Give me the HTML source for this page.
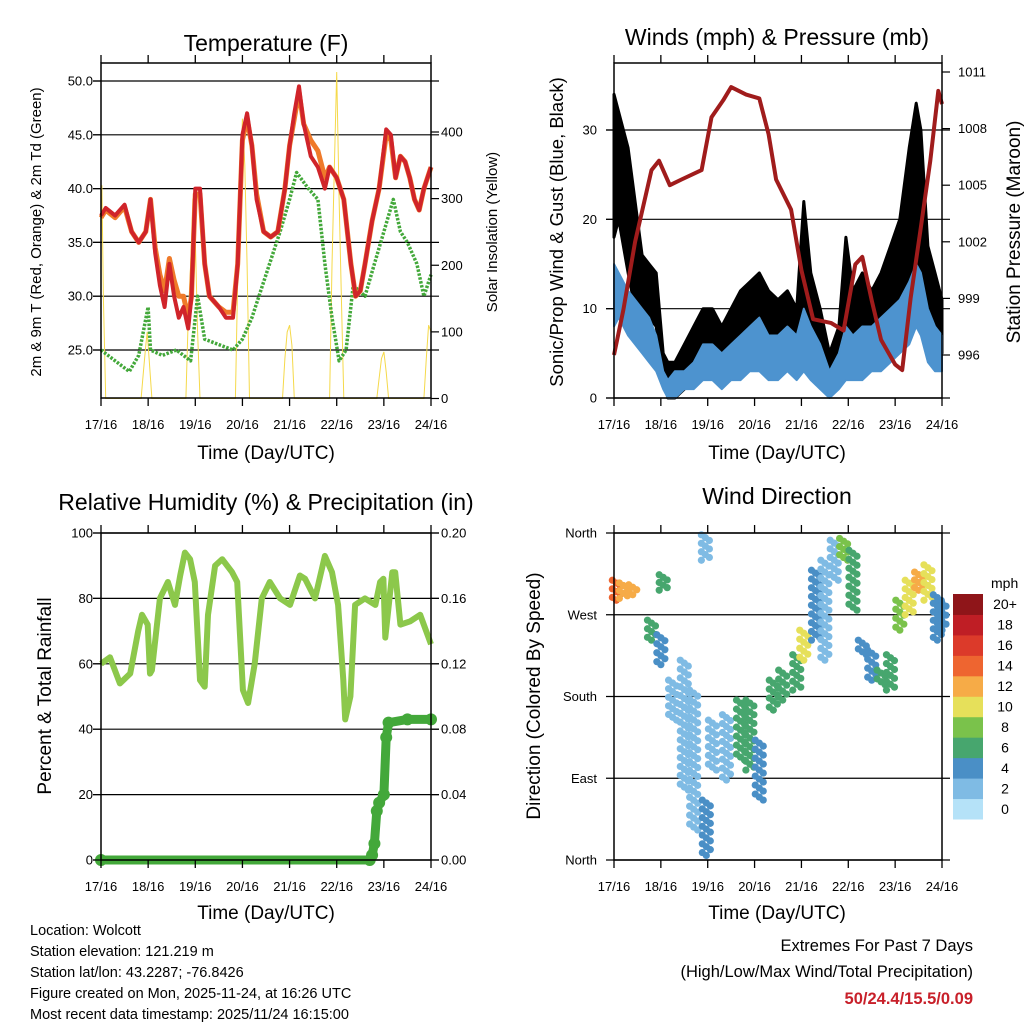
<!DOCTYPE html>
<html><head><meta charset="utf-8">
<style>
html,body{margin:0;padding:0;background:#fff;}
svg{display:block;font-family:"Liberation Sans",sans-serif;}
</style></head>
<body>
<svg id="chart" width="1024" height="1024" viewBox="0 0 1024 1024" xmlns="http://www.w3.org/2000/svg">
<rect width="1024" height="1024" fill="#fff"/>
<text x="266" y="51" font-size="23" text-anchor="middle">Temperature (F)</text>
<text x="777" y="45" font-size="23" text-anchor="middle">Winds (mph) &amp; Pressure (mb)</text>
<text x="266" y="510" font-size="23" text-anchor="middle">Relative Humidity (%) &amp; Precipitation (in)</text>
<text x="777" y="504" font-size="23" text-anchor="middle">Wind Direction</text>
<text x="266" y="459" font-size="19" text-anchor="middle">Time (Day/UTC)</text>
<text x="777" y="459" font-size="19" text-anchor="middle">Time (Day/UTC)</text>
<text x="266" y="919" font-size="19" text-anchor="middle">Time (Day/UTC)</text>
<text x="777" y="919" font-size="19" text-anchor="middle">Time (Day/UTC)</text>
<text transform="translate(41,232) rotate(-90)" font-size="15" text-anchor="middle">2m &amp; 9m T (Red, Orange) &amp; 2m Td (Green)</text>
<text transform="translate(497,232) rotate(-90)" font-size="15" text-anchor="middle">Solar Insolation (Yellow)</text>
<text transform="translate(563,232) rotate(-90)" font-size="18.5" text-anchor="middle">Sonic/Prop Wind &amp; Gust (Blue, Black)</text>
<text transform="translate(1020,232) rotate(-90)" font-size="19" text-anchor="middle">Station Pressure (Maroon)</text>
<text transform="translate(51,696) rotate(-90)" font-size="19" text-anchor="middle">Percent &amp; Total Rainfall</text>
<text transform="translate(540,696) rotate(-90)" font-size="19" text-anchor="middle">Direction (Colored By Speed)</text>
<g font-size="14.5">
<text x="30" y="935">Location: Wolcott</text>
<text x="30" y="956">Station elevation: 121.219 m</text>
<text x="30" y="977">Station lat/lon: 43.2287; -76.8426</text>
<text x="30" y="998">Figure created on Mon, 2025-11-24, at 16:26 UTC</text>
<text x="30" y="1019">Most recent data timestamp: 2025/11/24 16:15:00</text>
</g>
<text x="973" y="951" font-size="16.5" text-anchor="end">Extremes For Past 7 Days</text>
<text x="973" y="977" font-size="16.5" text-anchor="end">(High/Low/Max Wind/Total Precipitation)</text>
<text x="973" y="1004" font-size="16.5" font-weight="bold" fill="#c8202a" text-anchor="end">50/24.4/15.5/0.09</text>
<text x="991" y="588" font-size="14">mph</text>
</svg>
<script>
// ---------- DATA ----------
const dayLabels=["17/16","18/16","19/16","20/16","21/16","22/16","23/16","24/16"];
const tempTicks=[25,30,35,40,45,50];
const solarTicks=[0,100,200,300,400];
const windTicks=[0,10,20,30];
const pressTicks=[996,999,1002,1005,1008,1011];
const rhTicks=[0,20,40,60,80,100];
const rainTicks=[0,0.04,0.08,0.12,0.16,0.20];
const dirTicks=[0,90,180,270,360];
const dirLabels=["North","East","South","West","North"];
const speedBins=["0","2","4","6","8","10","12","14","16","18","20+"];

const tT=[0,0.1,0.3,0.5,0.65,0.8,0.95,1.05,1.15,1.25,1.35,1.45,1.55,1.65,1.75,1.85,1.92,2.0,2.1,2.2,2.3,2.5,2.65,2.8,2.9,3.0,3.1,3.2,3.3,3.45,3.6,3.75,3.9,4.0,4.1,4.2,4.3,4.45,4.6,4.75,4.85,5.0,5.15,5.3,5.4,5.5,5.6,5.75,5.9,6.05,6.15,6.25,6.35,6.45,6.55,6.65,6.75,6.85,7.0];
const tRed=[37.5,38.2,37.5,38.5,36,35,36,39,34,31,29,33,30,28,29,27,30,40,40,33,30,29,28,28,33,45,47,44,39,36,35.5,36,40,44,47,49.5,46,43,42,40,42,41,39,33,30,30.5,33,37,40,45.5,45,41,43,42.5,41,39,38,40,42];
const tOrange=[37.3,38,37.3,38.3,36,35,36,39,34.5,32,30.5,33.5,31.5,30,30,28,30,39.5,39.5,33,30,29,28.5,28.5,33,44.5,46.5,44,39.5,36,35.5,36,40,44,46.5,49,46,44.5,43.5,41,42,41,39,33,30,30.5,33,37,40,45,44.5,41,43,42.5,41,39,38,40,42];
const gT=[0,0.3,0.6,0.8,1.0,1.05,1.3,1.6,1.9,2.05,2.2,2.5,2.8,3.0,3.2,3.5,3.8,4.0,4.15,4.4,4.6,4.75,4.9,5.05,5.2,5.35,5.6,5.8,6.0,6.2,6.35,6.5,6.7,6.85,7.0];
const gDew=[25,24,23,24.5,29,25,24.5,25,24,30,26,25.5,25,26,28,32,36,39,41.5,40,39,33,28,24,25,31,30,33,36,39,36,35,33,30,32];
const sT=[0,0.02,0.05,0.08,0.1,0.85,0.9,0.95,0.98,1.02,1.08,1.8,1.85,1.9,1.95,2.0,2.05,2.1,2.85,2.9,2.95,3.0,3.05,3.1,3.15,3.85,3.9,3.95,4.0,4.05,4.1,4.85,4.9,4.95,5.0,5.05,5.1,5.15,5.85,5.9,5.95,6.0,6.05,6.1,6.85,6.9,6.95,7.0];
const sVal=[250,320,150,60,0,0,40,80,100,60,0,0,120,200,300,240,100,0,0,180,300,420,350,200,0,0,60,100,110,80,0,0,200,350,490,300,150,0,0,30,60,70,40,0,0,60,110,100];

const wT=[0,0.1,0.2,0.3,0.45,0.6,0.75,0.9,1.05,1.15,1.3,1.5,1.7,1.9,2.1,2.3,2.5,2.7,2.9,3.1,3.3,3.5,3.7,3.9,4.05,4.2,4.4,4.6,4.8,4.95,5.1,5.3,5.5,5.7,5.9,6.1,6.3,6.45,6.55,6.7,6.85,7.0];
const gustLo=[18,20,17,14,10,8,9,8,2,0,0,1,2,4,4,3,5,5,6,6,4,5,5,4,7,5,3,1,2,6,4,5,5,6,7,8,12,15,14,8,6,5];
const gustHi=[34,32,30,28,22,16,15,14,5,4,4,6,8,10,10,8,10,12,13,14,12,11,12,10,22,14,10,5,8,18,12,14,12,14,17,20,28,33,30,17,14,11];
const sustLo=[8,9,8,7,6,5,4,3,1,0,0,1,1,2,2,1,2,2,3,3,2,2,3,2,3,2,1,0,1,2,2,2,3,3,4,5,6,8,7,4,3,3];
const sustHi=[15,14,13,12,11,10,9,7,3,2,3,3,4,6,6,5,6,7,8,9,7,7,8,7,10,8,6,3,5,8,7,8,8,9,10,11,13,15,14,10,8,7];
const pT=[0,0.2,0.45,0.8,0.96,1.19,1.44,1.87,2.08,2.33,2.5,2.82,3.1,3.3,3.46,3.78,4.0,4.25,4.63,4.9,5.15,5.3,5.5,5.7,6.0,6.15,6.33,6.54,6.75,6.92,7.0];
const pVal=[996,998.4,1002,1005.8,1006.3,1005,1005.3,1005.8,1008.6,1009.5,1010.2,1009.8,1009.6,1007.7,1005.3,1003.7,1000.5,997.9,997.7,997.3,1000.8,1001.2,998.9,996.8,995.5,995.2,999,1002.6,1006.3,1010,1009.3];

const rhT=[0,0.19,0.4,0.62,0.79,0.87,0.99,1.04,1.08,1.25,1.42,1.57,1.68,1.78,1.89,1.99,2.1,2.2,2.27,2.42,2.57,2.78,2.89,3.01,3.12,3.26,3.41,3.58,3.8,4.01,4.22,4.33,4.54,4.75,4.9,5.03,5.14,5.18,5.29,5.39,5.6,5.82,5.92,5.99,6.03,6.18,6.24,6.35,6.56,6.77,7.0];
const rhVal=[60,62,54,57,70,75,72,57,58,80,85,78,87,94,92,85,55,53,75,90,92,88,85,52,48,60,80,85,80,78,87,86,80,93,88,78,55,43,50,78,80,78,85,86,68,88,88,72,73,75,66];
const prT=[0,5.7,5.75,5.8,5.85,5.9,6.0,6.05,6.1,6.5,7.0];
const prVal=[0,0,0.003,0.01,0.03,0.035,0.04,0.075,0.084,0.086,0.086];

const wdT=[0.05,0.2,0.4,0.8,1.0,1.05,1.25,1.5,1.7,1.95,1.97,2.1,2.4,2.7,2.9,3.1,3.4,3.6,3.9,4.05,4.3,4.5,4.7,4.9,5.1,5.3,5.5,5.7,5.9,6.1,6.3,6.5,6.7,6.9,7.0];
const wdLo=[286,288,292,242,215,297,154,77,33,330,5,99,88,110,99,66,165,176,187,220,242,220,308,330,275,226,198,193,187,253,270,297,286,242,253];
const wdHi=[308,305,303,264,248,314,198,220,187,358,66,154,160,176,176,132,198,209,226,253,319,330,352,354,341,242,231,209,226,286,308,317,325,292,286];
const wdSpd=[14,12,11,6,4,6,1,1,2,2,3,2,2,5,6,3,6,5,6,10,3,1,2,8,5,3,3,6,6,8,10,12,10,4,3];
const binColors=["#b5e2f8","#7fbbe4","#4a8fc6","#47a66e","#7ac24b","#e6e05a","#f6ab47","#ee6530","#dc3a2a","#bf1e25","#8f1519"];

// ---------- HELPERS ----------
const NS="http://www.w3.org/2000/svg";
const svg=document.getElementById('chart');
function mk(tag,attrs,parent){const e=document.createElementNS(NS,tag);for(const k in attrs)e.setAttribute(k,attrs[k]);(parent||svg).appendChild(e);return e;}
function lin(d0,d1,r0,r1){return v=>r0+(v-d0)*(r1-r0)/(d1-d0);}

function panel(name){
  const g=mk('g',{});
  
  
  return g;
}
function xAxis(g,x,T,B,name){
  dayLabels.forEach((lab,i)=>{
    const px=x(i);
    mk('line',{x1:px,x2:px,y1:B,y2:B+8,stroke:'#000','stroke-width':1.3},g);
    mk('line',{x1:px,x2:px,y1:T,y2:T-8,stroke:'#000','stroke-width':1.3},g);
    const t=mk('text',{x:px,y:B+31,'font-size':13,'text-anchor':'middle'},g);
    
    
    t.textContent=lab;
  });
}
function frame(g,L,R,T,B){mk('rect',{x:L,y:T,width:R-L,height:B-T,fill:'none',stroke:'#000','stroke-width':1.5},g);}
function grid(g,ys,L,R){ys.forEach(y=>mk('line',{x1:L-8,x2:R+8,y1:y,y2:y,stroke:'#000','stroke-width':1.2},g));}
function yLabels(g,vals,y,x,anchor,fmt,name,tickX,dir){
  vals.forEach(v=>{
    const py=y(v);
    mk('line',{x1:tickX,x2:tickX+dir*8,y1:py,y2:py,stroke:'#000','stroke-width':1.2},g);
    const t=mk('text',{x:x,y:py+4.5,'font-size':13,'text-anchor':anchor},g);
    
    
    t.textContent=fmt(v);
  });
}
function path(ts,vs,x,y){return ts.map((t,i)=>(i?'L':'M')+x(t).toFixed(1)+','+y(vs[i]).toFixed(1)).join('');}

// ---------- PANEL 1: TEMPERATURE ----------
(function(){
  const L=101,R=431,T=63,B=398;
  const x=lin(0,7,L,R), y=lin(25,50,350,81), ys=lin(0,400,398.5,132);
  const g=panel('temperature');
  grid(g,tempTicks.map(y),L,R);
  const sol=mk('path',{d:path(sT,sVal,x,ys),fill:'none',stroke:'#f5d94a','stroke-width':1},g);
  
  
  const dew=mk('path',{d:path(gT,gDew,x,y),fill:'none',stroke:'#43a83a','stroke-width':3.5,'stroke-dasharray':'2.5 1.5','stroke-linejoin':'round'},g);
  
  
  const or=mk('path',{d:path(tT,tOrange,x,y),fill:'none',stroke:'#ef7a2a','stroke-width':5,'stroke-linejoin':'round'},g);
  
  
  const rd=mk('path',{d:path(tT,tRed,x,y),fill:'none',stroke:'#d0242a','stroke-width':4,'stroke-linejoin':'round'},g);
  
  
  frame(g,L,R,T,B);
  xAxis(g,x,T,B,'temperature');
  yLabels(g,tempTicks,y,93,'end',v=>v.toFixed(1),'temp-y',L,-1);
  yLabels(g,solarTicks,ys,441,'start',v=>String(v),'solar-y',R,1);
})();

// ---------- PANEL 2: WIND & PRESSURE ----------
(function(){
  const L=614,R=942,T=63,B=398;
  const x=lin(0,7,L,R), y=lin(0,30,398,130), yp=lin(996,1011,355,72);
  const g=panel('wind');
  grid(g,windTicks.map(y),L,R);
  const band=(lo,hi,col,nm,w)=>{
    const d=path(wT,lo,x,y)+wT.slice().reverse().map((t,i)=>'L'+x(t).toFixed(1)+','+y(hi[wT.length-1-i]).toFixed(1)).join('')+'Z';
    const p=mk('path',{d:d,fill:col,stroke:col,'stroke-width':w,'stroke-linejoin':'round'},g);
    
    
  };
  band(gustLo,gustHi,'#000','wind-gust-band',3);
  band(sustLo,sustHi,'#4d93cf','wind-speed-band',2);
  const pr=mk('path',{d:path(pT,pVal,x,yp),fill:'none',stroke:'#a01c1c','stroke-width':4,'stroke-linejoin':'round'},g);
  
  
  frame(g,L,R,T,B);
  xAxis(g,x,T,B,'wind');
  yLabels(g,windTicks,y,597,'end',v=>String(v),'wind-y',L,-1);
  yLabels(g,pressTicks,yp,958,'start',v=>String(v),'pressure-y',R,1);
})();

// ---------- PANEL 3: RH & PRECIP ----------
(function(){
  const L=101,R=431,T=533,B=860;
  const x=lin(0,7,L,R), y=lin(0,100,860,533), yr=lin(0,0.04,860,794.6);
  const g=panel('humidity');
  grid(g,rhTicks.map(y),L,R);
  const rh=mk('path',{d:path(rhT,rhVal,x,y),fill:'none',stroke:'#8cc84b','stroke-width':6,'stroke-linejoin':'round'},g);
  
  
  const pr=mk('path',{d:path(prT,prVal,x,yr),fill:'none',stroke:'#43a83a','stroke-width':9,'stroke-linejoin':'round','stroke-linecap':'round'},g);
  
  
  prT.forEach((t,i)=>{
    const c=mk('circle',{cx:x(t),cy:yr(prVal[i]),r:6,fill:'#43a83a'},g);
    
    
  });
  frame(g,L,R,T,B);
  xAxis(g,x,T,B,'humidity');
  yLabels(g,rhTicks,y,93,'end',v=>String(v),'rh-y',L,-1);
  yLabels(g,rainTicks,yr,441,'start',v=>v.toFixed(2),'rain-y',R,1);
})();

// ---------- PANEL 4: WIND DIRECTION ----------
(function(){
  const L=614,R=942,T=533,B=860;
  const x=lin(0,7,L,R), y=lin(0,360,860,533);
  const g=panel('wind-direction');
  grid(g,dirTicks.map(y),L,R);
  const binOf=s=>Math.min(10,Math.round(s/2));
  wdT.forEach((t,i)=>{
    const y0=y(wdHi[i]), y1=y(wdLo[i]);
    const n=Math.max(3,Math.ceil((y1-y0)/3));
    for(let k=0;k<=n;k++){
      const c=mk('circle',{cx:x(t)+((k%3)-1)*4,cy:y0+(y1-y0)*k/n,r:3.6,fill:binColors[binOf(wdSpd[i])]},g);
      
      
    }
  });
  frame(g,L,R,T,B);
  xAxis(g,x,T,B,'wind-direction');
  dirTicks.forEach((v,i)=>{
    const t=mk('text',{x:597,y:y(v)+4.5,'font-size':13,'text-anchor':'end'},g);
    
    
    t.textContent=dirLabels[i];
  });
  const cb=mk('g',{});
  
  
  const cT=594,cB=819,h=(cB-cT)/binColors.length;
  binColors.forEach((col,i)=>{
    const yy=cB-(i+1)*h;
    const r=mk('rect',{x:953,y:yy,width:30,height:h+0.5,fill:col},cb);
    
    
    const t=mk('text',{x:1005,y:yy+h/2+5,'font-size':14,'text-anchor':'middle'},cb);
    
    
    t.textContent=speedBins[i];
  });
})();
</script>
</body></html>
